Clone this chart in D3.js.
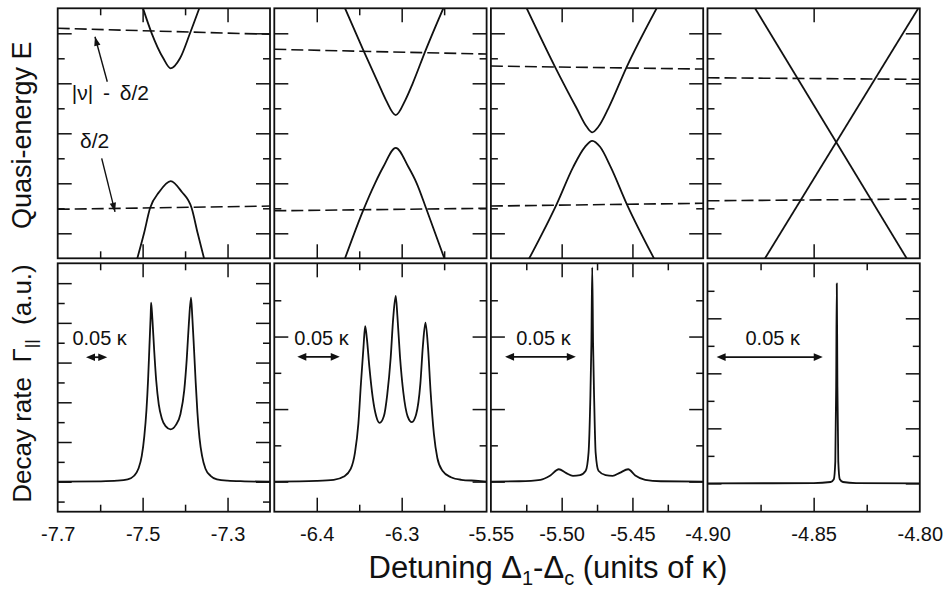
<!DOCTYPE html>
<html>
<head>
<meta charset="utf-8">
<script src="https://cdn.jsdelivr.net/npm/d3@7"></script>
<style>
  body { margin: 0; background: #fff; }
  svg { font-family: "Liberation Sans", Arial, Helvetica, sans-serif; }
  .tick line { stroke: #111; stroke-width: 1.5; }
</style>
</head>
<body>
<div id="chart"></div>
<script>
//////////////////////////////////////////////////////////////
///////////////////////// Data ///////////////////////////////
//////////////////////////////////////////////////////////////

//Detuning window of each column (units of kappa)
var xDomains = [[-7.7, -7.2], [-6.45, -6.20], [-5.55, -5.40], [-4.90, -4.80]];

//Labels under each column, the long ticks sit on them
var xTickLabels = [["-7.7", "-7.5", "-7.3"], ["-6.4", "-6.3"], ["-5.55", "-5.50", "-5.45"], ["-4.90", "-4.85", "-4.80"]];
var xMinorTicks = [[-7.6, -7.4], [-6.35, -6.25], [-5.525, -5.475, -5.425], [-4.875, -4.825]];
var topMinorShown = [true, true, false, false];

//Quasi-energy, frame goes 0 (bottom) .. 10 (top)
var upperLevel1 = [[-7.4991, 10], [-7.4786, 9], [-7.4513, 8], [-7.4339, 7.6], [-7.4119, 8], [-7.3884, 9], [-7.3665, 10]];
var lowerLevel1 = [[-7.5125, 0], [-7.4967, 1], [-7.4826, 2], [-7.4607, 2.66], [-7.4339, 3.09], [-7.408, 2.66], [-7.3844, 2], [-7.3703, 1], [-7.3554, 0]];
var upperLevel2 = [[-6.3667, 10], [-6.3452, 8.33], [-6.3275, 7.0], [-6.3185, 6.33], [-6.307, 5.73], [-6.2957, 6.33], [-6.287, 7.0], [-6.2717, 8.33], [-6.251, 10]];
var lowerLevel2 = [[-6.3667, 0], [-6.3452, 1.93], [-6.3314, 3.0], [-6.3216, 3.66], [-6.307, 4.42], [-6.2922, 3.66], [-6.2823, 3.0], [-6.2705, 1.93], [-6.2498, 0]];
var upperLevel3 = [[-5.5247, 10], [-5.5047, 7.66], [-5.4894, 6.0], [-5.4823, 5.26], [-5.4784, 5.04], [-5.4741, 5.26], [-5.467, 6.0], [-5.454, 7.66], [-5.4329, 10]];
var lowerLevel3 = [[-5.5229, 0], [-5.5035, 2.17], [-5.4918, 3.66], [-5.4835, 4.46], [-5.4784, 4.7], [-5.4729, 4.46], [-5.4654, 3.66], [-5.454, 2.17], [-5.4348, 0]];
var fallingLevel4 = [[-4.8776, 10], [-4.8062, 0]];
var risingLevel4 = [[-4.8729, 0], [-4.8007, 10]];

//Dashed levels |v| - d/2 and d/2, value at left and right frame edge
var dashedUpper = [[9.2, 8.96], [8.36, 8.17], [7.69, 7.57], [7.22, 7.16]];
var dashedLower = [[1.96, 2.09], [1.9, 2.0], [2.09, 2.2], [2.3, 2.37]];

//Decay rate (a.u.), one list per column
var decay1 = [[-7.700, 0], [-7.600, 0.02], [-7.560, 0.05], [-7.535, 0.12], [-7.520, 0.3], [-7.510, 0.65], [-7.502, 1.3],
  [-7.496, 2.3], [-7.491, 3.6], [-7.487, 5.2], [-7.484, 6.8], [-7.481, 8.4], [-7.480, 9.02], [-7.477, 8.2], [-7.473, 6.7],
  [-7.468, 5.1], [-7.462, 3.9], [-7.455, 3.2], [-7.446, 2.8], [-7.434, 2.64], [-7.422, 2.85], [-7.411, 3.4], [-7.402, 4.6],
  [-7.396, 6.2], [-7.391, 8.0], [-7.386, 9.27], [-7.383, 8.3], [-7.379, 6.7], [-7.375, 5.0], [-7.371, 3.5], [-7.366, 2.2],
  [-7.360, 1.3], [-7.352, 0.65], [-7.340, 0.3], [-7.325, 0.12], [-7.300, 0.05], [-7.260, 0.02], [-7.200, 0]];
var decay2 = [[-6.450, 0], [-6.400, 0.02], [-6.380, 0.05], [-6.368, 0.14], [-6.360, 0.35], [-6.355, 0.8], [-6.351, 1.6],
  [-6.348, 2.7], [-6.345, 3.7], [-6.343, 4.29], [-6.341, 3.95], [-6.338, 3.15], [-6.334, 2.3], [-6.330, 1.8], [-6.326, 1.62],
  [-6.321, 1.8], [-6.317, 2.4], [-6.313, 3.4], [-6.310, 4.5], [-6.307, 5.12], [-6.305, 4.55], [-6.302, 3.45], [-6.298, 2.45],
  [-6.293, 1.8], [-6.288, 1.64], [-6.283, 1.85], [-6.278, 2.7], [-6.275, 3.75], [-6.272, 4.38], [-6.269, 3.7], [-6.266, 2.5],
  [-6.262, 1.3], [-6.258, 0.65], [-6.252, 0.3], [-6.242, 0.12], [-6.230, 0.05], [-6.210, 0.02], [-6.200, 0]];
var decay3 = [[-5.550, 0], [-5.530, 0.01], [-5.515, 0.05], [-5.508, 0.17], [-5.502, 0.34], [-5.497, 0.24], [-5.492, 0.16],
  [-5.487, 0.18], [-5.483, 0.3], [-5.481, 0.8], [-5.4798, 2.2], [-5.479, 3.8], [-5.4784, 5.91], [-5.4778, 3.8], [-5.4770, 2.2],
  [-5.476, 0.8], [-5.474, 0.3], [-5.469, 0.18], [-5.464, 0.16], [-5.459, 0.24], [-5.453, 0.34], [-5.448, 0.17], [-5.441, 0.05],
  [-5.430, 0.01], [-5.400, 0]];
var decay4 = [[-4.900, 0], [-4.850, 0.01], [-4.8420, 0.05], [-4.8405, 0.15], [-4.8398, 0.8], [-4.8394, 3.5], [-4.8391, 7.27],
  [-4.8388, 3.5], [-4.8384, 0.8], [-4.8377, 0.15], [-4.8362, 0.05], [-4.830, 0.01], [-4.800, 0]];

//Vertical ranges and ticks of the decay panels
var decayDomains = [[-1.51, 11.0], [-0.83, 6.02], [-0.83, 6.02], [-1.03, 8.0]];
var decayTicks = [d3.range(-1, 11), d3.range(0, 6), d3.range(0, 6), d3.range(0, 8)];
var energyTicks = d3.range(1, 10);

//0.05 kappa scale bars: left end, height of bar, height of label
var barStart = [-7.6333, -6.4229, -5.5400, -4.8957];
var barLevel = [6.27, 3.44, 3.44, 4.59];
var barTextLevel = [6.89, 3.77, 3.77, 5.03];
var barWidth = 0.05;

//////////////////////////////////////////////////////////////
/////////////////////// Layout ///////////////////////////////
//////////////////////////////////////////////////////////////

var width = 944, height = 589;
var panelLeft = 57.7, panelWidth = 212.3, panelStep = 216.6;
var topRow = {top: 8.3, bottom: 258.3};
var botRow = {top: 263.3, bottom: 511.7};
var longTick = 14, shortTick = 7;

var upperLevels = [upperLevel1, upperLevel2, upperLevel3, fallingLevel4];
var lowerLevels = [lowerLevel1, lowerLevel2, lowerLevel3, risingLevel4];
var decays = [decay1, decay2, decay3, decay4];

var svg = d3.select("#chart").append("svg")
    .attr("width", width)
    .attr("height", height);

var defs = svg.append("defs");

var yEnergy = d3.scaleLinear().domain([0, 10]).range([topRow.bottom, topRow.top]);

function arrowHead(g, x1, y1, x2, y2, len, half) {
  var a = Math.atan2(y2 - y1, x2 - x1);
  var bx = x2 - len * Math.cos(a), by = y2 - len * Math.sin(a);
  var px = -Math.sin(a) * half, py = Math.cos(a) * half;
  g.append("path")
    .attr("d", "M" + x2 + "," + y2 + "L" + (bx + px) + "," + (by + py) + "L" + (bx - px) + "," + (by - py) + "Z")
    .attr("fill", "#111");
}

//Inward ticks on all four sides through d3 axes
function frameTicks(g, x, y, row, xMajor, xMinor, yMajor, yMinor) {
  var x0 = x.range()[0], x1 = x.range()[1];
  [[xMajor, longTick], [xMinor, shortTick]].forEach(function(p) {
    g.append("g").attr("transform", "translate(0," + row.bottom + ")")
      .call(d3.axisBottom(x).tickValues(p[0]).tickSize(-p[1]).tickFormat(""))
      .call(function(a) { a.select(".domain").remove(); });
    g.append("g").attr("transform", "translate(0," + row.top + ")")
      .call(d3.axisTop(x).tickValues(p[0]).tickSize(-p[1]).tickFormat(""))
      .call(function(a) { a.select(".domain").remove(); });
  });
  [[yMajor, longTick], [yMinor, shortTick]].forEach(function(p) {
    g.append("g").attr("transform", "translate(" + x0 + ",0)")
      .call(d3.axisLeft(y).tickValues(p[0]).tickSize(-p[1]).tickFormat(""))
      .call(function(a) { a.select(".domain").remove(); });
    g.append("g").attr("transform", "translate(" + x1 + ",0)")
      .call(d3.axisRight(y).tickValues(p[0]).tickSize(-p[1]).tickFormat(""))
      .call(function(a) { a.select(".domain").remove(); });
  });
  g.append("rect")
    .attr("x", x0).attr("y", row.top)
    .attr("width", x1 - x0).attr("height", row.bottom - row.top)
    .attr("fill", "none").attr("stroke", "#111").attr("stroke-width", 1.8);
}

//////////////////////////////////////////////////////////////
/////////////////////// Panels ///////////////////////////////
//////////////////////////////////////////////////////////////

xDomains.forEach(function(dom, i) {
  var left = panelLeft + i * panelStep;
  var x = d3.scaleLinear().domain(dom).range([left, left + panelWidth]);
  var yDecay = d3.scaleLinear().domain(decayDomains[i]).range([botRow.bottom, botRow.top]);

  var xMajor = xTickLabels[i].map(Number).filter(function(v) { return v > dom[0] + 1e-9 && v < dom[1] - 1e-9; });

  //clip paths for the two rows
  defs.append("clipPath").attr("id", "clipTop" + i).append("rect")
    .attr("x", left).attr("y", topRow.top).attr("width", panelWidth).attr("height", topRow.bottom - topRow.top);
  defs.append("clipPath").attr("id", "clipBot" + i).append("rect")
    .attr("x", left).attr("y", botRow.top).attr("width", panelWidth).attr("height", botRow.bottom - botRow.top);

  //Quasi-energy levels
  var top = svg.append("g").attr("class", "energy");
  var levelLine = d3.line()
    .x(function(d) { return x(d[0]); })
    .y(function(d) { return yEnergy(d[1]); })
    .curve(d3.curveMonotoneX);

  [upperLevels[i], lowerLevels[i]].forEach(function(lev) {
    top.append("path")
      .attr("d", levelLine(lev))
      .attr("fill", "none").attr("stroke", "#111").attr("stroke-width", 1.8)
      .attr("clip-path", "url(#clipTop" + i + ")");
  });
  [dashedUpper[i], dashedLower[i]].forEach(function(d) {
    top.append("path")
      .attr("d", levelLine([[dom[0], d[0]], [dom[1], d[1]]]))
      .attr("fill", "none").attr("stroke", "#111").attr("stroke-width", 1.6)
      .attr("stroke-dasharray", "12,5");
  });

  frameTicks(top, x, yEnergy, topRow,
    xMajor, topMinorShown[i] ? xMinorTicks[i] : [],
    energyTicks.filter(function(v) { return v % 2 === 1; }),
    energyTicks.filter(function(v) { return v % 2 === 0; }));

  //Decay rate
  var bot = svg.append("g").attr("class", "decay");
  var decayLine = d3.line()
    .x(function(d) { return x(d[0]); })
    .y(function(d) { return yDecay(d[1]); })
    .curve(d3.curveMonotoneX);

  bot.append("path")
    .attr("d", decayLine(decays[i]))
    .attr("fill", "none").attr("stroke", "#111").attr("stroke-width", 1.8)
    .attr("stroke-linejoin", "round")
    .attr("clip-path", "url(#clipBot" + i + ")");

  frameTicks(bot, x, yDecay, botRow,
    xMajor, xMinorTicks[i],
    decayTicks[i].filter(function(v) { return v % 2 === 0; }),
    decayTicks[i].filter(function(v) { return v % 2 !== 0; }));

  //0.05 kappa bar
  var bx0 = x(barStart[i]), bx1 = x(barStart[i] + barWidth), by = yDecay(barLevel[i]);
  bot.append("line")
    .attr("x1", bx0 + 4).attr("x2", bx1 - 4).attr("y1", by).attr("y2", by)
    .attr("stroke", "#111").attr("stroke-width", 1.8);
  arrowHead(bot, bx1, by, bx0, by, 9, 3.8);
  arrowHead(bot, bx0, by, bx1, by, 9, 3.8);
  bot.append("text")
    .attr("x", (bx0 + bx1) / 2 + 3)
    .attr("y", yDecay(barTextLevel[i]))
    .attr("text-anchor", "middle")
    .attr("font-size", 20)
    .attr("fill", "#111")
    .text("0.05 \u03ba");

  //tick labels below the bottom row
  var labelAxis = svg.append("g")
    .attr("transform", "translate(0," + botRow.bottom + ")")
    .call(d3.axisBottom(x).tickValues(xTickLabels[i].map(Number)).tickSize(0).tickPadding(15)
      .tickFormat(function(d, k) { return xTickLabels[i][k]; }));
  labelAxis.select(".domain").remove();
  labelAxis.selectAll("text")
    .attr("font-size", 20)
    .attr("font-family", "'Liberation Sans', Arial, Helvetica, sans-serif")
    .attr("fill", "#111");

  //annotations in the first column
  if (i === 0) {
    var ann = svg.append("g").attr("class", "annotation");
    var nuFrom = [-7.5832, 7.06], nuTo = [-7.6122, 8.86];
    var dFrom = [-7.5964, 4.0], dTo = [-7.565, 1.86];
    [[nuFrom, nuTo], [dFrom, dTo]].forEach(function(a) {
      var ax0 = x(a[0][0]), ay0 = yEnergy(a[0][1]), ax1 = x(a[1][0]), ay1 = yEnergy(a[1][1]);
      ann.append("line")
        .attr("x1", ax0).attr("y1", ay0).attr("x2", ax1).attr("y2", ay1)
        .attr("stroke", "#111").attr("stroke-width", 1.4);
      arrowHead(ann, ax0, ay0, ax1, ay1, 9, 3.2);
    });
    ann.append("text")
      .attr("x", x(-7.667)).attr("y", yEnergy(6.33))
      .attr("font-size", 21).attr("fill", "#111")
      .attr("word-spacing", 4)
      .text("|\u03bd| - \u03b4/2");
    ann.append("text")
      .attr("x", x(-7.6475)).attr("y", yEnergy(4.41))
      .attr("font-size", 21).attr("fill", "#111")
      .text("\u03b4/2");
  }
});

//////////////////////////////////////////////////////////////
/////////////////////// Titles ///////////////////////////////
//////////////////////////////////////////////////////////////

svg.append("text")
  .attr("transform", "translate(30.7," + ((topRow.top + topRow.bottom) / 2 + 2) + ") rotate(-90)")
  .attr("text-anchor", "middle")
  .attr("font-size", 27)
  .attr("fill", "#111")
  .text("Quasi-energy E");

var yTitle = svg.append("text")
  .attr("transform", "translate(30.7," + ((botRow.top + botRow.bottom) / 2 - 4) + ") rotate(-90)")
  .attr("text-anchor", "middle")
  .attr("font-size", 26)
  .attr("fill", "#111");
yTitle.append("tspan").text("Decay rate \u00a0\u0393");
yTitle.append("tspan").attr("font-size", 17).attr("dy", 6).text("||");
yTitle.append("tspan").attr("dy", -6).text(" \u00a0(a.u.)");

var xTitle = svg.append("text")
  .attr("x", 548)
  .attr("y", 578)
  .attr("text-anchor", "middle")
  .attr("font-size", 31)
  .attr("fill", "#111");
xTitle.append("tspan").text("Detuning \u0394");
xTitle.append("tspan").attr("font-size", 20).attr("dy", 7).text("1");
xTitle.append("tspan").attr("dy", -7).text("-\u0394");
xTitle.append("tspan").attr("font-size", 20).attr("dy", 7).text("c");
xTitle.append("tspan").attr("dy", -7).text(" (units of \u03ba)");
</script>
</body>
</html>
